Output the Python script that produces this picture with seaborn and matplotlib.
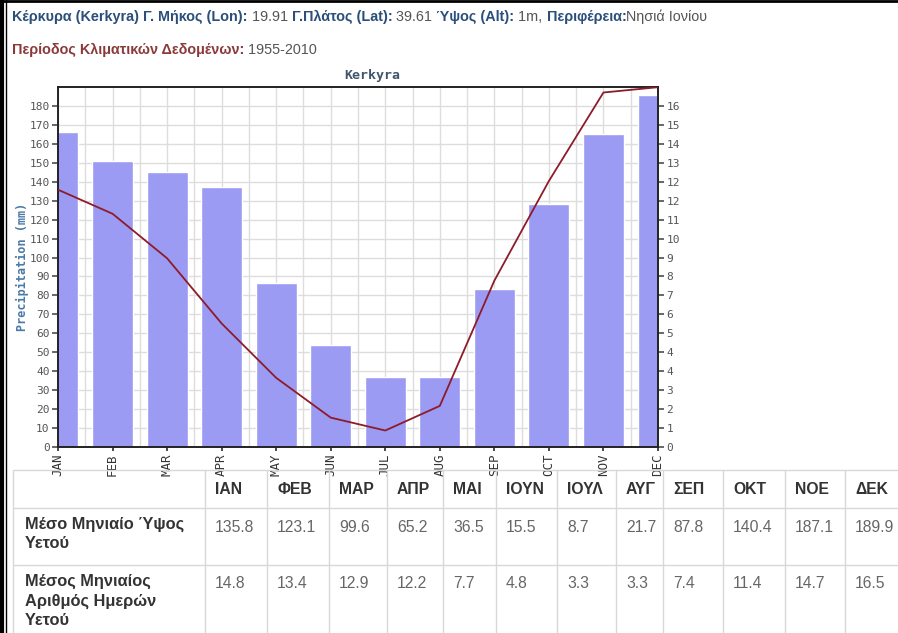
import numpy as np
import pandas as pd
import matplotlib
matplotlib.use("Agg")
import matplotlib.pyplot as plt
from matplotlib.lines import Line2D
import seaborn as sns

# ---------------- data ----------------
months_en = ["JAN", "FEB", "MAR", "APR", "MAY", "JUN", "JUL", "AUG", "SEP", "OCT", "NOV", "DEC"]
months_gr = ["ΙΑΝ", "ΦΕΒ", "ΜΑΡ", "ΑΠΡ", "ΜΑΙ", "ΙΟΥΝ", "ΙΟΥΛ", "ΑΥΓ", "ΣΕΠ", "ΟΚΤ", "ΝΟΕ", "ΔΕΚ"]
precip_mm = [135.8, 123.1, 99.6, 65.2, 36.5, 15.5, 8.7, 21.7, 87.8, 140.4, 187.1, 189.9]
rain_days = [14.8, 13.4, 12.9, 12.2, 7.7, 4.8, 3.3, 3.3, 7.4, 11.4, 14.7, 16.5]
left_ticks = [0, 10, 20, 30, 40, 50, 60, 70, 80, 90, 100, 110, 120, 130, 140, 150, 160, 170, 180]
right_tick_labels = ["0", "1", "2", "3", "4", "4", "5", "6", "7", "8", "9", "10",
                     "11", "12", "12", "13", "14", "15", "16"]
row1_label = "Μέσο Μηνιαίο Ύψος\nΥετού"
row2_label = "Μέσος Μηνιαίος\nΑριθμός Ημερών\nΥετού"

W, H = 898, 633
sns.set_theme(style="white")
plt.rcParams["font.family"] = ["Liberation Sans", "DejaVu Sans"]

fig = plt.figure(figsize=(W / 100, H / 100), dpi=100)
fig.patch.set_facecolor("white")

def fx(px):
    return px / W

def fy(py):
    return 1 - py / H

ratio = 180 / 16.0
ymax_mm = 190.0
MONO = "DejaVu Sans Mono"

ax = fig.add_axes([fx(58), fy(447), fx(658) - fx(58), fy(87) - fy(447)])
df = pd.DataFrame({"m": months_en, "x": np.arange(12), "days": rain_days, "mm": precip_mm})

# bars: rain days (right scale)
sns.barplot(data=df, x="m", y="days", ax=ax, color="#9b9bf3", saturation=1,
            width=0.75, zorder=2)

# line: precipitation (left scale)
ax2 = ax.twinx()
sns.lineplot(data=df, x="x", y="mm", ax=ax2, color="#8e1b2a", lw=1.3, zorder=5)

ax.set_xlim(0, 11)
ax.set_ylim(0, ymax_mm / ratio)
ax.set_yticks(np.array(left_ticks) / ratio)
ax.set_yticklabels(right_tick_labels)
ax.yaxis.tick_right()
ax.set_xticks(np.arange(12))
ax.set_xticklabels(months_en, rotation=90, fontsize=9, family=MONO, color="#333333")
ax.set_xticks(np.arange(0.5, 11, 1.0), minor=True)
ax.grid(True, which="both", axis="x", color="#dddddd", lw=1.0, zorder=0)
ax.grid(True, which="major", axis="y", color="#dddddd", lw=1.0, zorder=0)
ax.set_axisbelow(True)
ax.set_xlabel("")
ax.set_ylabel("")
ax.tick_params(axis="y", which="major", labelsize=8, labelcolor="#555555", length=4,
               color="#555555", right=True, left=False, labelright=True, labelleft=False, pad=2)
ax.tick_params(axis="x", which="major", length=3, color="#333333", pad=2, bottom=True)
ax.tick_params(axis="x", which="minor", length=0)
for lab in ax.get_yticklabels():
    lab.set_family(MONO)

ax2.set_ylim(0, ymax_mm)
ax2.set_xlim(0, 11)
ax2.yaxis.tick_left()
ax2.yaxis.set_label_position("left")
ax2.set_yticks(left_ticks)
ax2.set_yticklabels([str(t) for t in left_ticks])
ax2.tick_params(axis="y", labelsize=8, labelcolor="#555555", length=4, color="#555555",
                left=True, right=False, labelleft=True, labelright=False, pad=2)
for lab in ax2.get_yticklabels():
    lab.set_family(MONO)
ax2.set_ylabel("Precipitation (mm)", family=MONO, fontsize=8.5,
               fontweight="bold", color="#4a7aa6")
ax2.yaxis.set_label_coords(-0.048, 0.5)
ax2.set_xlabel("")
ax2.grid(False)

for a in (ax, ax2):
    for s in a.spines.values():
        s.set_color("#222222")
        s.set_linewidth(1.2)

fig.text(fx(372), fy(76), "Kerkyra", ha="center", va="center", family=MONO,
         fontsize=9.5, fontweight="bold", color="#3f556b")

# ---------------- header text ----------------
fig.canvas.draw()
renderer = fig.canvas.get_renderer()

def seg_line(x0, y, segments, size=10.4):
    x = x0
    for txt, bold, col in segments:
        t = fig.text(fx(x), fy(y), txt, ha="left", va="center", fontsize=size,
                     fontweight="bold" if bold else "normal", color=col)
        bb = t.get_window_extent(renderer=renderer)
        x += bb.width
    return x

blue = "#2a4f7a"
grey = "#555555"
red = "#8b3a3a"
seg_line(12, 17, [
    ("Κέρκυρα (Kerkyra) Γ. Μήκος (Lon):", True, blue),
    (" 19.91 ", False, grey),
    ("Γ.Πλάτος (Lat):", True, blue),
    (" 39.61 ", False, grey),
    ("Ύψος (Alt):", True, blue),
    (" 1m, ", False, grey),
    ("Περιφέρεια:", True, blue),
    ("Νησιά Ιονίου", False, grey),
])
seg_line(12, 50, [
    ("Περίοδος Κλιματικών Δεδομένων:", True, red),
    (" 1955-2010", False, grey),
])

# ---------------- table ----------------
col_edges = [205, 267, 329, 387, 443, 496, 557, 616, 663, 723, 785, 845]
row_lines = [470, 508, 565]
gc = "#d8d8d8"
for yy in row_lines:
    fig.add_artist(Line2D([fx(13), fx(898)], [fy(yy), fy(yy)], color=gc, lw=1.0))
for xx in [13] + col_edges:
    fig.add_artist(Line2D([fx(xx), fx(xx)], [fy(470), fy(633)], color=gc, lw=1.0))

TS = 11.3
for xe, mg in zip(col_edges, months_gr):
    fig.text(fx(xe + 10), fy(489), mg, ha="left", va="center", fontsize=TS,
             fontweight="bold", color="#333333")
for xe, v in zip(col_edges, precip_mm):
    fig.text(fx(xe + 10), fy(527), f"{v:.1f}", ha="left", va="center", fontsize=TS,
             color="#666666")
for xe, v in zip(col_edges, rain_days):
    fig.text(fx(xe + 10), fy(584), f"{v:.1f}", ha="left", va="center", fontsize=TS,
             color="#666666")
fig.text(fx(25), fy(517), row1_label, ha="left", va="top", fontsize=11.8, fontweight="bold",
         color="#333333", linespacing=1.35)
fig.text(fx(25), fy(574), row2_label, ha="left", va="top", fontsize=11.8, fontweight="bold",
         color="#333333", linespacing=1.35)

# outer frame
fig.add_artist(Line2D([fx(1.5), fx(1.5)], [0, 1], color="black", lw=3))
fig.add_artist(Line2D([fx(5.5), fx(5.5)], [0, 1], color="black", lw=1))
fig.add_artist(Line2D([0, 1], [fy(1), fy(1)], color="black", lw=2))

fig.savefig("out.png", dpi=100, facecolor="white")
